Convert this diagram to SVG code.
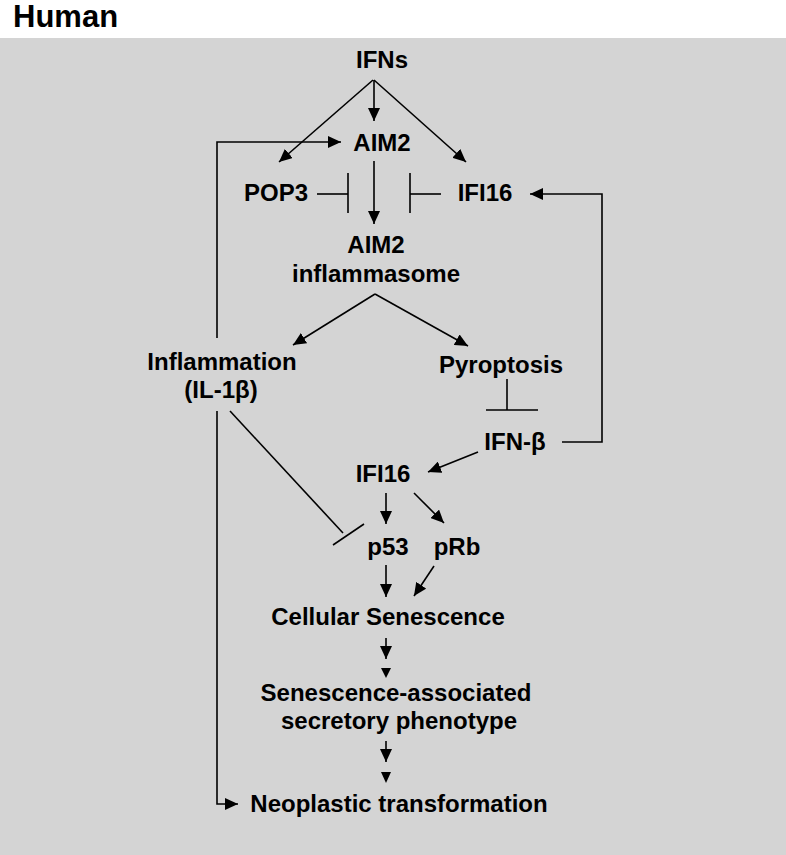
<svg xmlns="http://www.w3.org/2000/svg" width="786" height="855" viewBox="0 0 786 855">
<style>
.t{font-family:"Liberation Sans",Arial,sans-serif;font-weight:bold;font-size:24px;fill:#000;text-anchor:middle}
.ln{stroke:#000;stroke-width:1.6;fill:none}
.ar{marker-end:url(#ah)}
</style>
<defs>
<marker id="ah" markerUnits="userSpaceOnUse" markerWidth="14" markerHeight="12" viewBox="0 0 14 12" refX="13" refY="6" orient="auto">
<path d="M0,0 L13,6 L0,12 Z" fill="#000"/>
</marker>
</defs>
<rect x="0" y="0" width="786" height="855" fill="#fff"/>
<rect x="0" y="38" width="786" height="817" fill="#d4d4d4"/>
<text x="13" y="27" style="font-family:'Liberation Sans',Arial,sans-serif;font-weight:bold;font-size:31px">Human</text>

<g id="connectors">
<line class="ln ar" x1="374" y1="80" x2="374" y2="121"/>
<line class="ln ar" x1="373" y1="80" x2="279" y2="162"/>
<line class="ln ar" x1="374" y1="80" x2="466" y2="162"/>
<polyline class="ln ar" points="217,338 217,142 341,142"/>
<line class="ln" x1="317" y1="194" x2="348" y2="194"/>
<line class="ln" x1="348" y1="173" x2="348" y2="213"/>
<line class="ln ar" x1="374" y1="161" x2="374" y2="224"/>
<line class="ln" x1="441" y1="194" x2="410" y2="194"/>
<line class="ln" x1="410" y1="173" x2="410" y2="213"/>
<polyline class="ln ar" points="562,442 602,442 602,194 530,194"/>
<line class="ln ar" x1="375" y1="294" x2="293" y2="345"/>
<line class="ln ar" x1="375" y1="294" x2="468" y2="346"/>
<polyline class="ln ar" points="217,411 217,804 238,804"/>
<line class="ln" x1="230" y1="411" x2="343" y2="533"/>
<line class="ln" x1="333" y1="545" x2="364" y2="524"/>
<line class="ln" x1="507" y1="379" x2="507" y2="410"/>
<line class="ln" x1="486" y1="410" x2="538" y2="410"/>
<line class="ln ar" x1="478" y1="452" x2="428" y2="472"/>
<line class="ln ar" x1="386" y1="493" x2="386" y2="524"/>
<line class="ln ar" x1="414" y1="493" x2="444" y2="523"/>
<line class="ln ar" x1="386" y1="565" x2="386" y2="597"/>
<line class="ln ar" x1="434" y1="566" x2="414" y2="596"/>
<line class="ln ar" x1="386" y1="638" x2="386" y2="659"/>
<polygon points="381,668 391,668 386,678" fill="#000"/>
<line class="ln ar" x1="386" y1="741" x2="386" y2="762"/>
<polygon points="381,772 391,772 386,783" fill="#000"/>
</g>

<g id="n-ifns"><text class="t" x="382" y="67.5">IFNs</text></g>
<g id="n-aim2"><text class="t" x="382" y="151">AIM2</text></g>
<g id="n-pop3"><text class="t" x="276" y="201">POP3</text></g>
<g id="n-ifi16a"><text class="t" x="485" y="201">IFI16</text></g>
<g id="n-inflammasome"><text class="t" x="376" y="253">AIM2</text><text class="t" x="376" y="282">inflammasome</text></g>
<g id="n-inflammation"><text class="t" x="222" y="370">Inflammation</text><text class="t" x="221" y="398">(IL-1β)</text></g>
<g id="n-pyroptosis"><text class="t" x="501" y="373">Pyroptosis</text></g>
<g id="n-ifnb"><text class="t" x="515" y="450">IFN-β</text></g>
<g id="n-ifi16b"><text class="t" x="383" y="482">IFI16</text></g>
<g id="n-p53"><text class="t" x="388" y="555">p53</text></g>
<g id="n-prb"><text class="t" x="457" y="555">pRb</text></g>
<g id="n-senescence"><text class="t" x="388" y="625">Cellular Senescence</text></g>
<g id="n-sasp"><text class="t" x="396" y="701">Senescence-associated</text><text class="t" x="399" y="729">secretory phenotype</text></g>
<g id="n-neoplastic"><text class="t" x="399" y="812">Neoplastic transformation</text></g>
</svg>
